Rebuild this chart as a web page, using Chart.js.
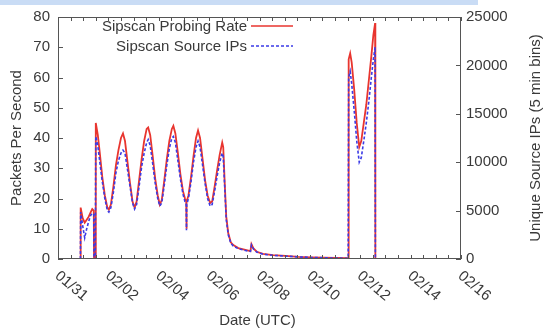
<!DOCTYPE html>
<html>
<head>
<meta charset="utf-8">
<script src="https://cdn.jsdelivr.net/npm/chart.js@4/dist/chart.umd.min.js"></script>
<style>
  html, body { margin: 0; padding: 0; background: #fff; }
  #wrap { position: relative; width: 549px; height: 335px; }
  #band { position: absolute; left: 0; top: 0; width: 478px; height: 5px; background: #c9dcf5; }
</style>
</head>
<body>
<div id="wrap">
  <canvas id="sipChart"></canvas>
  <div id="band"></div>
</div>
<script>
// days since 01/31 00:00 UTC
const days = [
  0.89, 0.90, 0.98, 1.06, 1.14, 1.22, 1.30, 1.36, 1.42, 1.43, 1.48,
  1.50, 1.58, 1.66, 1.76, 1.86, 1.96, 2.02, 2.10, 2.20, 2.30, 2.40, 2.50,
  2.58, 2.66, 2.76, 2.86, 2.96, 3.04, 3.12, 3.22, 3.32, 3.42, 3.52, 3.58,
  3.66, 3.76, 3.86, 3.96, 4.04, 4.12, 4.22, 4.32, 4.42, 4.52, 4.58, 4.66,
  4.76, 4.86, 4.96, 5.04, 5.09, 5.10, 5.11, 5.18, 5.28, 5.38, 5.48, 5.56,
  5.64, 5.74, 5.84, 5.94, 6.04, 6.12, 6.22, 6.32, 6.42, 6.52, 6.56, 6.62,
  6.68, 6.76, 6.86, 6.96, 7.16, 7.36, 7.56, 7.64, 7.68, 7.76, 7.89, 8.14,
  8.54, 9.04, 9.54, 10.04, 10.54, 11.04, 11.52, 11.54, 11.60, 11.66, 11.76,
  11.86, 11.96, 12.04, 12.14, 12.24, 12.34, 12.44, 12.52, 12.59, 12.60
];
// packets per second (left axis)
const probingRate = [
  0, 17, 13.5, 12, 13, 14, 15.5, 16.5, 16, 0, 0,
  45, 41, 35, 27, 21, 17, 16.3, 18, 24, 31, 36, 40,
  41.5, 39, 32, 25, 19, 17, 19, 26, 33, 39, 43, 43.5,
  41, 34, 26.5, 21, 18, 19.5, 26, 33, 39, 43, 44, 41.5,
  35, 28, 22.5, 20, 19, 10, 19, 21, 27, 34, 40, 42.5,
  40, 33, 26, 21, 18.5, 19, 24, 29.5, 34.5, 38.5, 37, 25,
  14, 8.5, 5.5, 4.6, 3.6, 3.2, 2.8, 2.6, 4.9, 3.5, 2.4, 1.7,
  1.3, 1.0, 0.7, 0.55, 0.45, 0.35, 0.3, 66, 68, 65, 56,
  45, 37, 39, 45, 51, 59, 67, 74, 78, 0
];
// unique source IPs per 5 min bin (right axis)
const sourceIPs = [
  0, 4840, 3440, 2190, 3130, 3900, 4530, 4690, 4690, 0, 0,
  12660, 11720, 10000, 7970, 6250, 5000, 4840, 5310, 6880, 8910, 10160, 10940,
  11250, 10940, 9220, 7500, 5780, 5160, 5630, 7500, 9530, 10940, 12030, 12340,
  11720, 9840, 7810, 6250, 5470, 5780, 7660, 9690, 11410, 12500, 12660, 12030,
  10160, 8280, 6720, 5940, 5630, 2970, 5630, 6250, 7970, 10000, 11560, 12190,
  11560, 9690, 7810, 6250, 5470, 5630, 7030, 8590, 10000, 10940, 10630, 7340,
  4060, 2500, 1630, 1340, 1060, 940, 810, 780, 1440, 1030, 720, 500,
  380, 300, 220, 160, 130, 90, 80, 18750, 19380, 18130, 15310,
  12190, 10000, 10470, 12190, 14060, 16250, 18750, 20630, 21880, 0
];
const xTickLabels = ['01/31', '02/02', '02/04', '02/06', '02/08', '02/10', '02/12', '02/14', '02/16'];
const seriesNames = ['Sipscan Probing Rate', 'Sipscan Source IPs'];

const RED = '#e8352f';
const BLUE = '#3b3be6';
const TEXT = '#3a3a3a';
const AXIS = '#555555';
const FONT = '"Liberation Sans", Arial, sans-serif';
const FSIZE = 15;

const framePlugin = {
  id: 'gnuplotFrame',
  afterDatasetsDraw(chart) {
    const { ctx, chartArea: a, scales } = chart;
    ctx.save();
    ctx.strokeStyle = AXIS;
    ctx.lineWidth = 1;
    ctx.strokeRect(Math.round(a.left) + 0.5, Math.round(a.top) + 0.5,
      Math.round(a.right - a.left) - 1, Math.round(a.bottom - a.top) - 1);

    // inward tick marks
    ctx.beginPath();
    scales.x.ticks.forEach(t => {
      const px = Math.round(scales.x.getPixelForValue(t.value)) + 0.5;
      ctx.moveTo(px, a.bottom); ctx.lineTo(px, a.bottom - 4);
      ctx.moveTo(px, a.top); ctx.lineTo(px, a.top + 4);
    });
    scales.y.ticks.forEach(t => {
      const py = Math.round(scales.y.getPixelForValue(t.value)) + 0.5;
      ctx.moveTo(a.left, py); ctx.lineTo(a.left + 5, py);
    });
    scales.y2.ticks.forEach(t => {
      const py = Math.round(scales.y2.getPixelForValue(t.value)) + 0.5;
      ctx.moveTo(a.right, py); ctx.lineTo(a.right - 5, py);
    });
    ctx.stroke();

    // rotated date labels
    ctx.fillStyle = TEXT;
    ctx.font = FSIZE + 'px ' + FONT;
    ctx.textAlign = 'left';
    ctx.textBaseline = 'middle';
    xTickLabels.forEach((lab, i) => {
      const px = scales.x.getPixelForValue(i * 2);
      ctx.save();
      ctx.translate(px - 1, a.bottom + 15);
      ctx.rotate(40 * Math.PI / 180);
      ctx.fillText(lab, 0, 0);
      ctx.restore();
    });

    // axis titles
    ctx.textAlign = 'center';
    ctx.fillText('Date (UTC)', (a.left + a.right) / 2 - 2, 321);
    const midY = (a.top + a.bottom) / 2;
    ctx.save();
    ctx.translate(17, midY);
    ctx.rotate(-Math.PI / 2);
    ctx.fillText('Packets Per Second', 0, 0);
    ctx.restore();
    ctx.save();
    ctx.translate(536, midY);
    ctx.rotate(-Math.PI / 2);
    ctx.fillText('Unique Source IPs (5 min bins)', 0, 0);
    ctx.restore();

    // key (gnuplot style: text right aligned, sample to the right)
    ctx.textAlign = 'right';
    const keyRows = [27, 47];
    chart.data.datasets.forEach((ds, i) => {
      ctx.fillStyle = TEXT;
      ctx.fillText(ds.label, 247, keyRows[i]);
      ctx.strokeStyle = ds.borderColor;
      ctx.lineWidth = 1.5;
      ctx.setLineDash(ds.borderDash || []);
      ctx.beginPath();
      ctx.moveTo(251, keyRows[i] - 1);
      ctx.lineTo(293, keyRows[i] - 1);
      ctx.stroke();
      ctx.setLineDash([]);
    });
    ctx.restore();
  }
};

new Chart(document.getElementById('sipChart'), {
  type: 'line',
  data: {
    datasets: [
      {
        label: seriesNames[0],
        data: days.map((d, i) => ({ x: d, y: probingRate[i] })),
        borderColor: RED,
        borderWidth: 1.8,
        pointRadius: 0,
        yAxisID: 'y',
        order: 2
      },
      {
        label: seriesNames[1],
        data: days.map((d, i) => ({ x: d, y: sourceIPs[i] })),
        borderColor: BLUE,
        borderWidth: 1.6,
        borderDash: [3, 2],
        pointRadius: 0,
        yAxisID: 'y2',
        order: 1
      }
    ]
  },
  options: {
    responsive: true,
    maintainAspectRatio: false,
    animation: false,
    layout: { padding: { top: 14, left: 0, right: 0, bottom: 0 } },
    plugins: { legend: { display: false }, tooltip: { enabled: false } },
    scales: {
      x: {
        type: 'linear',
        min: 0,
        max: 16,
        ticks: { display: false, stepSize: 0.5 },
        grid: { display: false, drawTicks: false },
        border: { display: false },
        afterFit: s => { s.height = 76; }
      },
      y: {
        position: 'left',
        min: 0,
        max: 80,
        ticks: { stepSize: 10, padding: 8, color: TEXT, font: { family: FONT, size: FSIZE },
                 callback: v => String(v) },
        grid: { display: false, drawTicks: false },
        border: { display: false },
        afterFit: s => { s.width = 58; }
      },
      y2: {
        position: 'right',
        min: 0,
        max: 25000,
        ticks: { stepSize: 5000, padding: 5, color: TEXT, font: { family: FONT, size: FSIZE },
                 callback: v => String(v) },
        grid: { display: false, drawTicks: false },
        border: { display: false },
        afterFit: s => { s.width = 88; }
      }
    }
  },
  plugins: [framePlugin]
});
</script>
</body>
</html>
